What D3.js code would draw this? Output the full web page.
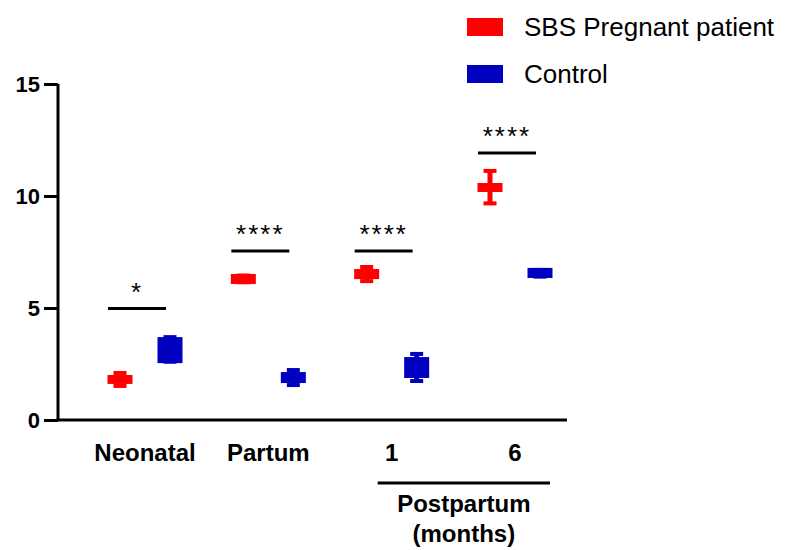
<!DOCTYPE html>
<html>
<head>
<meta charset="utf-8">
<script src="https://cdn.jsdelivr.net/npm/d3@7"></script>
<style>
  body { margin: 0; background: #fff; }
  svg { display: block; font-family: "Liberation Sans", Arial, sans-serif; }
</style>
</head>
<body>
<div id="chart"></div>
<script>
// values
const groups = ["Neonatal", "Partum", "1", "6"];
const seriesNames = ["SBS Pregnant patient", "Control"];
const seriesColors = ["#ff0000", "#0000c0"];
const sbsBoxLo = [1.61, 6.07, 6.29, 10.18];
const sbsBoxHi = [2.01, 6.52, 6.74, 10.58];
const sbsErrLo = [1.52, 6.15, 6.2, 9.67];
const sbsErrHi = [2.1, 6.45, 6.83, 11.12];
const ctlBoxLo = [2.54, 1.65, 1.875, 6.34];
const ctlBoxHi = [3.7, 2.14, 2.81, 6.79];
const ctlErrLo = [2.6, 1.56, 1.74, 6.4];
const ctlErrHi = [3.7, 2.23, 2.95, 6.7];
const sigLevel = [4.98, 7.54, 7.54, 11.92];
const sigLabel = ["*", "****", "****", "****"];
const yTicks = [0, 5, 10, 15];

const width = 792, height = 550;
const axisLeftX = 58, axisRightX = 567;

const svg = d3.select("#chart").append("svg")
  .attr("width", width)
  .attr("height", height);

const y = d3.scaleLinear().domain([0, 15]).range([420, 84]);
const x = d3.scalePoint().domain(groups).range([145, 515]);
const inner = d3.scalePoint().domain(seriesNames).range([-25, 25]);

const series = [
  { name: seriesNames[0], color: seriesColors[0], boxLo: sbsBoxLo, boxHi: sbsBoxHi, errLo: sbsErrLo, errHi: sbsErrHi },
  { name: seriesNames[1], color: seriesColors[1], boxLo: ctlBoxLo, boxHi: ctlBoxHi, errLo: ctlErrLo, errHi: ctlErrHi }
];

// boxes + error bars with caps
series.forEach(s => {
  const g = svg.append("g").attr("fill", s.color).attr("stroke", s.color);
  groups.forEach((grp, i) => {
    const cx = x(grp) + inner(s.name);
    g.append("line")
      .attr("x1", cx).attr("x2", cx)
      .attr("y1", y(s.errHi[i])).attr("y2", y(s.errLo[i]))
      .attr("stroke-width", 5);
    [s.errHi[i], s.errLo[i]].forEach(v => {
      g.append("line")
        .attr("x1", cx - 6.5).attr("x2", cx + 6.5)
        .attr("y1", y(v)).attr("y2", y(v))
        .attr("stroke-width", 4);
    });
    g.append("rect")
      .attr("x", cx - 12.5)
      .attr("width", 25)
      .attr("y", y(s.boxHi[i]))
      .attr("height", y(s.boxLo[i]) - y(s.boxHi[i]))
      .attr("stroke", "none");
  });
});

// significance bars
groups.forEach((grp, i) => {
  const cx = x(grp) - 8;
  svg.append("line")
    .attr("x1", cx - 29).attr("x2", cx + 29)
    .attr("y1", y(sigLevel[i])).attr("y2", y(sigLevel[i]))
    .attr("stroke", "#000").attr("stroke-width", 3);
  svg.append("text")
    .attr("x", cx).attr("y", y(sigLevel[i]) - 22)
    .attr("text-anchor", "middle")
    .attr("font-size", 26)
    .attr("letter-spacing", 2)
    .attr("dy", "0.55em")
    .text(sigLabel[i]);
});

// y axis
const yAxis = svg.append("g")
  .attr("transform", `translate(${axisLeftX},0)`)
  .call(d3.axisLeft(y).tickValues(yTicks).tickSize(14).tickPadding(4));
yAxis.select(".domain").attr("stroke", "#000").attr("stroke-width", 3)
  .attr("d", `M0,${y(15)}V${y(0)}`);
yAxis.selectAll(".tick line").attr("stroke", "#000").attr("stroke-width", 3);
yAxis.selectAll(".tick text")
  .attr("font-size", 22).attr("font-weight", "bold").attr("fill", "#000")
  .attr("font-family", "Liberation Sans, Arial, sans-serif");

// x axis line
svg.append("line")
  .attr("x1", axisLeftX - 1.5).attr("x2", axisRightX)
  .attr("y1", y(0)).attr("y2", y(0))
  .attr("stroke", "#000").attr("stroke-width", 3);

// category labels
svg.append("g").selectAll("text")
  .data(groups)
  .join("text")
  .attr("x", d => x(d))
  .attr("y", 461)
  .attr("text-anchor", "middle")
  .attr("font-size", 24)
  .attr("font-weight", "bold")
  .text(d => d);

// postpartum bracket
const ppLeft = x("1") - 14, ppRight = x("6") + 35;
svg.append("line")
  .attr("x1", ppLeft).attr("x2", ppRight)
  .attr("y1", 483).attr("y2", 483)
  .attr("stroke", "#000").attr("stroke-width", 3);
const pp = svg.append("text")
  .attr("text-anchor", "middle")
  .attr("font-size", 24)
  .attr("font-weight", "bold");
pp.append("tspan").attr("x", (ppLeft + ppRight) / 2).attr("y", 512).text("Postpartum");
pp.append("tspan").attr("x", (ppLeft + ppRight) / 2).attr("y", 542).text("(months)");

// legend
const legend = svg.append("g").selectAll("g")
  .data(series)
  .join("g")
  .attr("transform", (d, i) => `translate(467,${18 + i * 47})`);
legend.append("rect")
  .attr("width", 36).attr("height", 18)
  .attr("fill", d => d.color);
legend.append("text")
  .attr("x", 57).attr("y", 18)
  .attr("font-size", 26)
  .attr("fill", "#000")
  .text(d => d.name);
</script>
</body>
</html>
